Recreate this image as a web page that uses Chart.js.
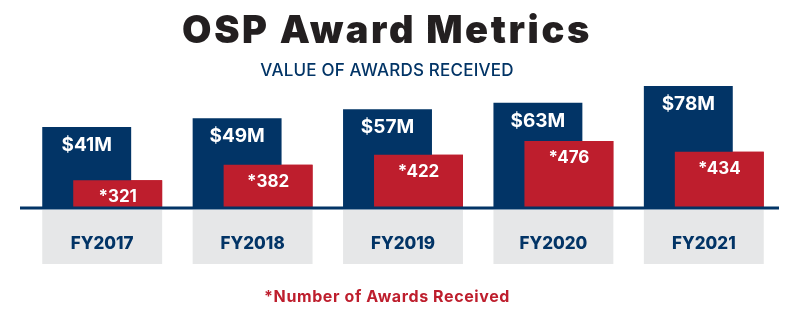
<!DOCTYPE html>
<html>
<head>
<meta charset="utf-8">
<script src="https://cdn.jsdelivr.net/npm/chart.js@4/dist/chart.umd.min.js"></script>
<style>
  html, body { margin: 0; padding: 0; background: #fff; }
  #wrap { width: 801px; height: 325px; }
</style>
</head>
<body>
<div id="wrap"><canvas id="awardsChart" width="801" height="325"></canvas></div>
<script>
const categories   = ['FY2017', 'FY2018', 'FY2019', 'FY2020', 'FY2021'];
const awardValues  = [41, 49, 57, 63, 78];        // $M
const awardCounts  = [321, 382, 422, 476, 434];   // number of awards

const titleText    = 'OSP Award Metrics';
const subtitleText = 'VALUE OF AWARDS RECEIVED';
const footnoteText = '*Number of Awards Received';

// the graphic does not start its bars at zero
const VALUE_MIN = -32, VALUE_MAX = 88;
const COUNT_MIN = 212, COUNT_MAX = 736;

const NAVY = '#023466';
const RED  = '#be1e2d';
const GRAY = '#e6e7e8';
const INK  = '#231f20';
const FONT = 'Inter, "Noto Sans", sans-serif';
const TEXT_X = 387;

// boxes under the bars, titles, baseline and bar labels
const decor = {
    id: 'decor',
    beforeDraw(chart) {
        const { ctx, chartArea } = chart;
        const navy = chart.getDatasetMeta(0).data;
        const red  = chart.getDatasetMeta(1).data;

        ctx.save();
        ctx.fillStyle = GRAY;
        navy.forEach((bar, i) => {
            const left  = bar.x - bar.width / 2;
            const right = red[i].x + red[i].width / 2;
            ctx.fillRect(left, chartArea.bottom + 2, right - left, 54);
        });

        ctx.textAlign = 'center';
        ctx.textBaseline = 'alphabetic';
        ctx.fillStyle = INK;
        ctx.font = `900 38px ${FONT}`;
        ctx.letterSpacing = '2.6px';
        ctx.fillText(titleText, TEXT_X, 43);

        ctx.fillStyle = NAVY;
        ctx.font = `500 17px ${FONT}`;
        ctx.letterSpacing = '0.2px';
        ctx.fillText(subtitleText, TEXT_X, 76);

        ctx.fillStyle = RED;
        ctx.font = `700 16px ${FONT}`;
        ctx.letterSpacing = '0.6px';
        ctx.fillText(footnoteText, TEXT_X, 302);
        ctx.restore();
    },
    afterDatasetsDraw(chart) {
        const { ctx, chartArea } = chart;
        const navy = chart.getDatasetMeta(0).data;
        const red  = chart.getDatasetMeta(1).data;

        // count bars sit in front of the value bars
        red.forEach(el => el.draw(ctx));

        ctx.save();
        ctx.strokeStyle = NAVY;
        ctx.lineWidth = 3;
        ctx.beginPath();
        ctx.moveTo(chartArea.left - 7, chartArea.bottom);
        ctx.lineTo(chartArea.right, chartArea.bottom);
        ctx.stroke();

        ctx.textAlign = 'center';
        ctx.textBaseline = 'alphabetic';
        ctx.fillStyle = '#fff';
        ctx.font = `700 19px ${FONT}`;
        navy.forEach((bar, i) => {
            ctx.fillText(`$${awardValues[i]}M`, bar.x, bar.y + 24);
        });
        ctx.font = `700 17px ${FONT}`;
        red.forEach((bar, i) => {
            ctx.fillText(`*${awardCounts[i]}`, bar.x, bar.y + 22);
        });
        ctx.restore();
    }
};

new Chart(document.getElementById('awardsChart').getContext('2d'), {
    type: 'bar',
    data: {
        labels: categories,
        datasets: [{
            label: 'Value of awards ($M)',
            data: awardValues,
            yAxisID: 'y',
            base: VALUE_MIN,
            backgroundColor: NAVY,
            categoryPercentage: 0.412,
            barPercentage: 2.87
        }, {
            label: 'Number of awards',
            data: awardCounts,
            yAxisID: 'y2',
            base: COUNT_MIN,
            backgroundColor: RED,
            categoryPercentage: 0.412,
            barPercentage: 2.87
        }]
    },
    options: {
        responsive: false,
        animation: false,
        devicePixelRatio: 1,
        layout: { padding: { top: 75, left: 27, right: 22, bottom: 0 } },
        plugins: {
            legend: { display: false },
            tooltip: { enabled: false }
        },
        scales: {
            x: {
                grid: { display: false },
                border: { display: false },
                ticks: {
                    color: NAVY,
                    padding: 18,
                    font: { family: FONT, size: 17, weight: '800' }
                },
                afterFit: scale => { scale.height = 117; }
            },
            y:  { display: false, beginAtZero: false, min: VALUE_MIN, max: VALUE_MAX },
            y2: { display: false, beginAtZero: false, min: COUNT_MIN, max: COUNT_MAX }
        }
    },
    plugins: [decor]
});
</script>
</body>
</html>
